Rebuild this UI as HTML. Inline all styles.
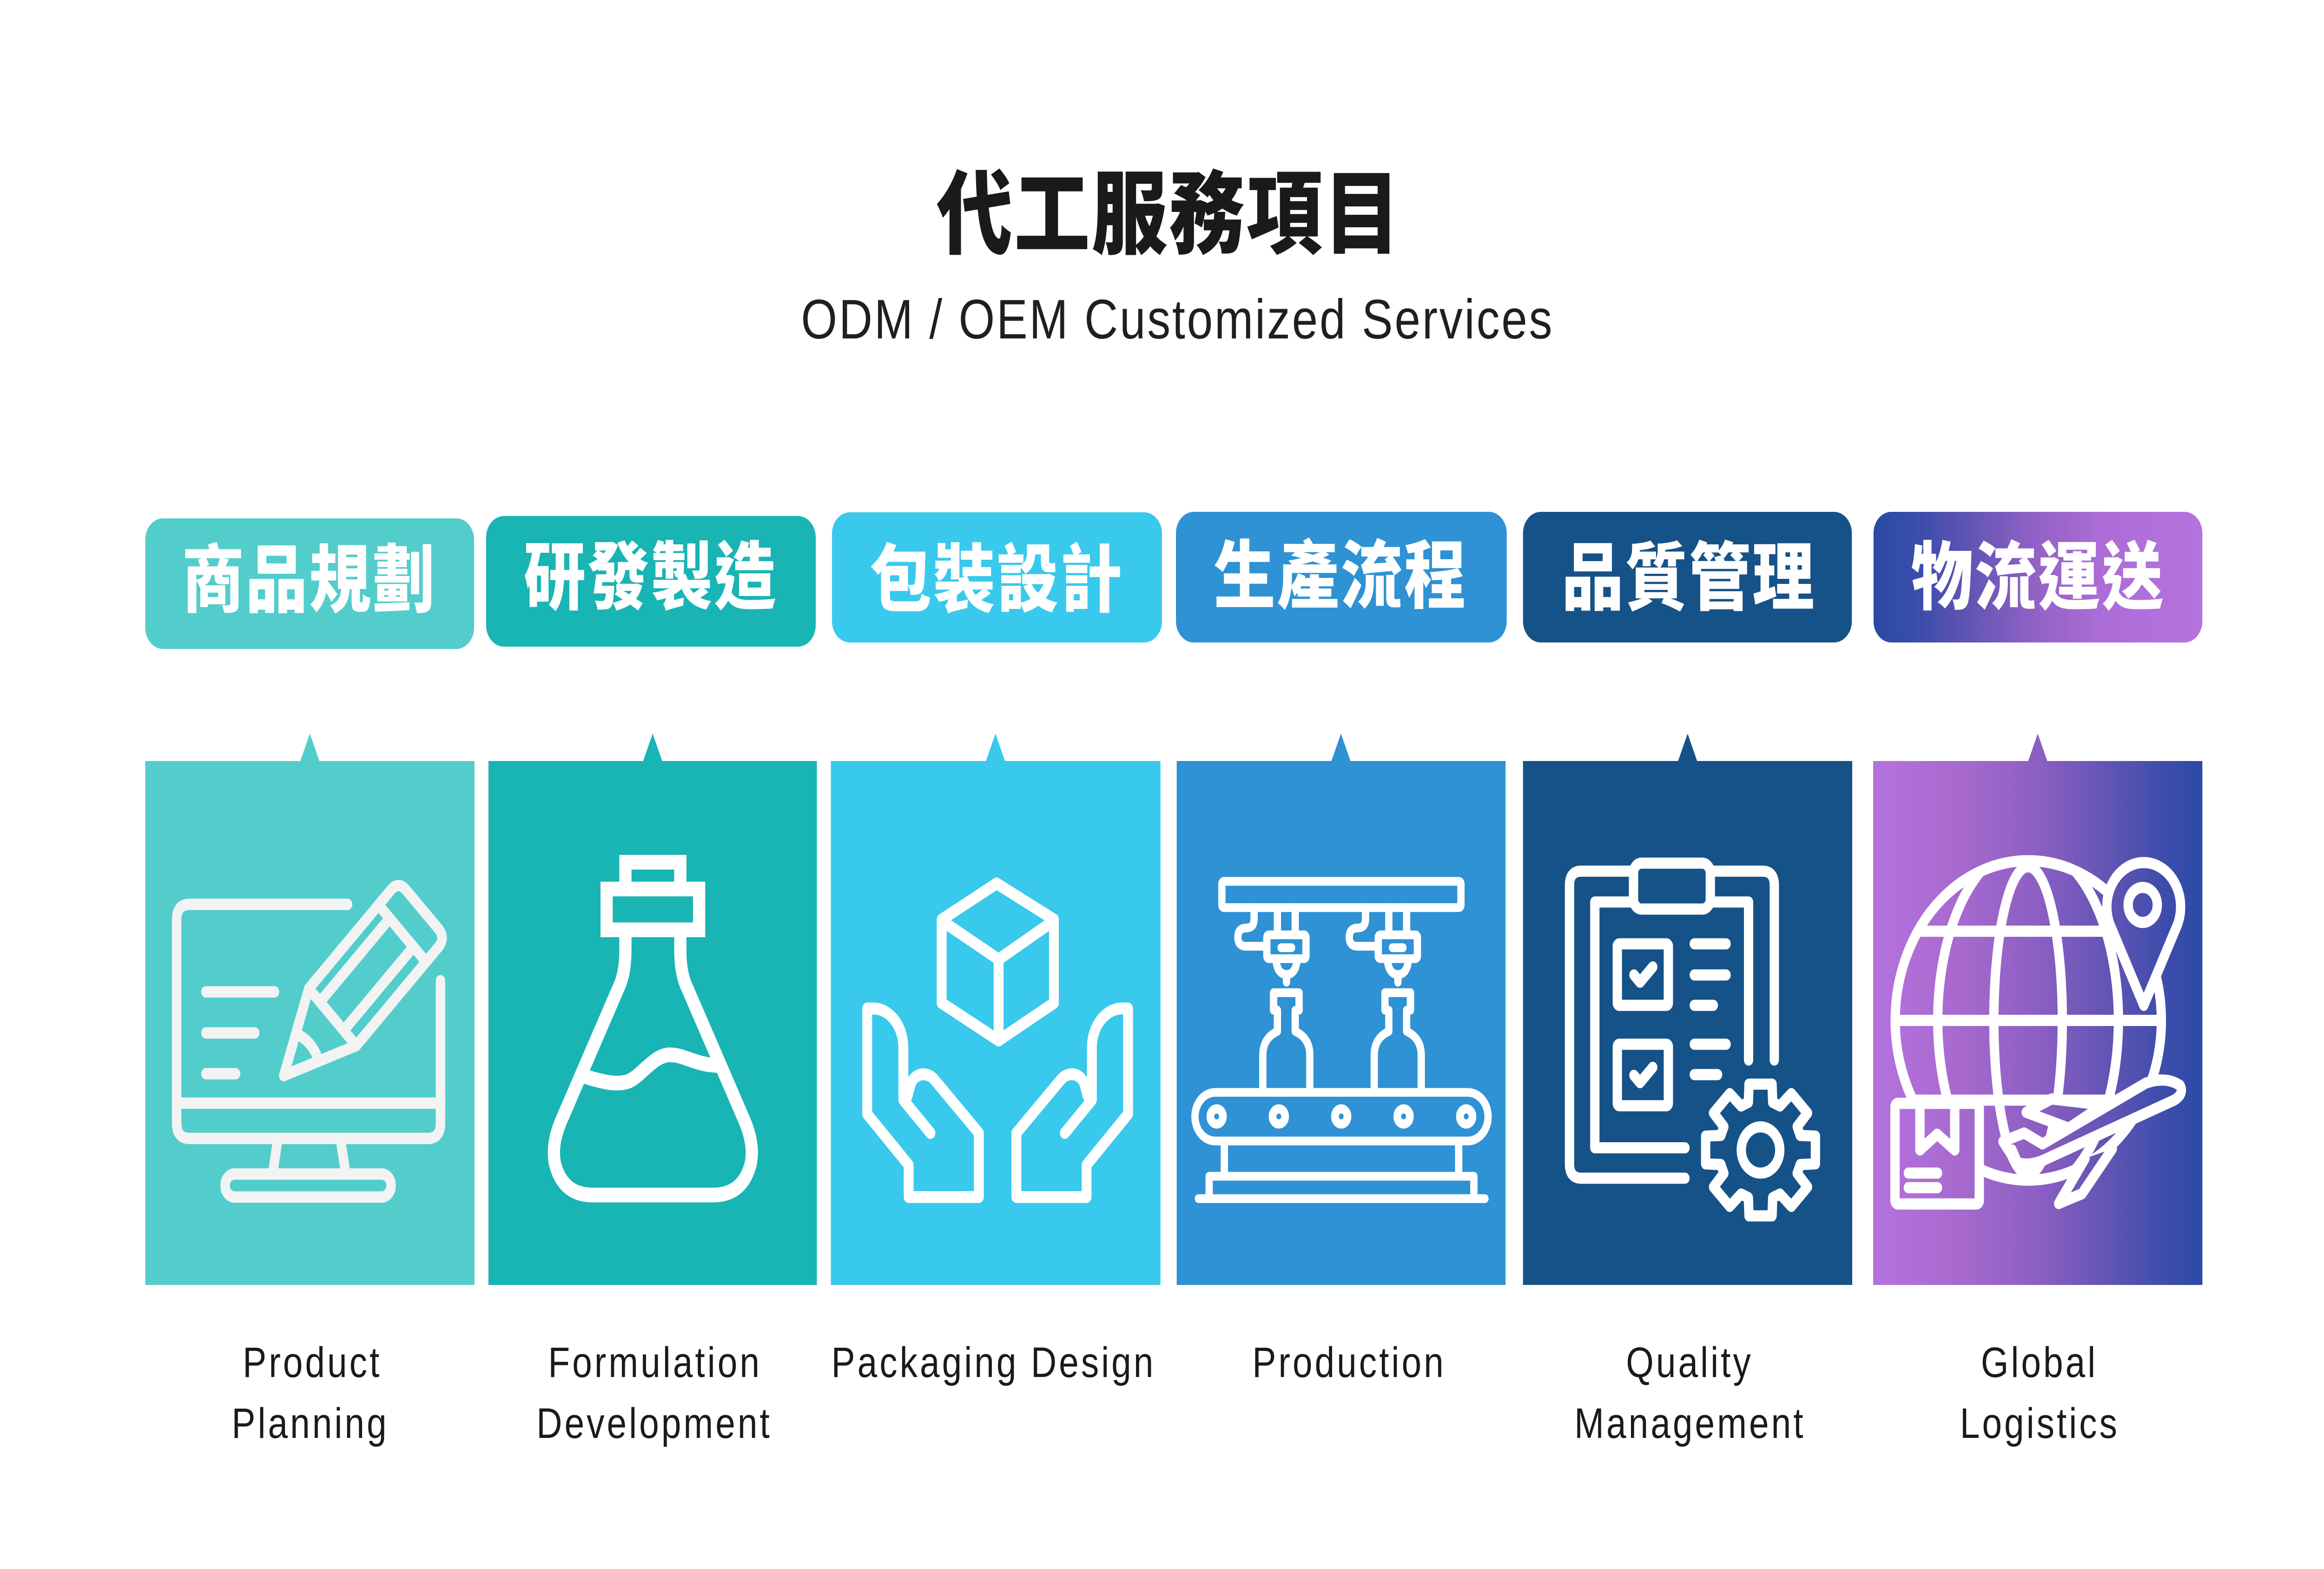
<!DOCTYPE html>
<html>
<head>
<meta charset="utf-8">
<style>
  html,body{margin:0;padding:0;background:#ffffff;width:100%;height:100%;overflow:hidden;}
  svg.main{position:fixed;left:0;top:0;width:100vw;height:100vh;display:block;}
  .cjk{font-family:"Liberation Sans","Noto Sans CJK TC","Noto Sans CJK SC",sans-serif;font-weight:900;}
  .lat{font-family:"Liberation Sans",sans-serif;}
</style>
</head>
<body>
<svg class="main" viewBox="0 0 6000 3375" preserveAspectRatio="none" xmlns="http://www.w3.org/2000/svg">
  <defs>
    <linearGradient id="g6" gradientUnits="userSpaceOnUse" x1="4836" y1="0" x2="5686" y2="0">
      <stop offset="0" stop-color="#B472DE"/>
      <stop offset="0.25" stop-color="#A86ACF"/>
      <stop offset="0.5" stop-color="#8C5FC3"/>
      <stop offset="0.7" stop-color="#6455B5"/>
      <stop offset="0.88" stop-color="#3E4DAB"/>
      <stop offset="1" stop-color="#2A4AA6"/>
    </linearGradient>
    <linearGradient id="p6" gradientUnits="userSpaceOnUse" x1="4837" y1="0" x2="5686" y2="0">
      <stop offset="0" stop-color="#2A4AA6"/>
      <stop offset="0.15" stop-color="#3E4DAB"/>
      <stop offset="0.3" stop-color="#6455B5"/>
      <stop offset="0.5" stop-color="#9462C6"/>
      <stop offset="0.7" stop-color="#AD6DD8"/>
      <stop offset="1" stop-color="#B472DE"/>
    </linearGradient>
  </defs>

  <rect x="0" y="0" width="6000" height="3375" fill="#ffffff"/>

  <!-- Title -->
  <text class="cjk" x="3018" y="530" font-size="196" text-anchor="middle" fill="#1a1a1a" letter-spacing="4">代工服務項目</text>
  <text class="lat" x="3040" y="728" font-size="120" text-anchor="middle" fill="#1f1f1f" letter-spacing="4.5">ODM / OEM Customized Services</text>

  <!-- Pills -->
  <rect x="375" y="1115" width="849" height="281" rx="46" fill="#52CDCC"/>
  <rect x="1255" y="1110" width="851" height="281" rx="46" fill="#19B4B4"/>
  <rect x="2148" y="1102" width="852" height="280" rx="46" fill="#39C9EC"/>
  <rect x="3036" y="1101" width="854" height="281" rx="46" fill="#2E92D4"/>
  <rect x="3932" y="1101" width="849" height="281" rx="46" fill="#155288"/>
  <rect x="4837" y="1101" width="849" height="281" rx="46" fill="url(#p6)"/>

  <g class="cjk" font-size="160" text-anchor="middle" fill="#ffffff" letter-spacing="4">
    <text x="798" y="1304">商品規劃</text>
    <text x="1680" y="1298">研發製造</text>
    <text x="2573" y="1303">包裝設計</text>
    <text x="3461" y="1295">生產流程</text>
    <text x="4360" y="1299">品質管理</text>
    <text x="5262" y="1298">物流運送</text>
  </g>

  <!-- Boxes -->
  <rect x="375" y="1637" width="850" height="1127" fill="#52CDCC"/>
  <rect x="1261" y="1637" width="848" height="1127" fill="#19B4B4"/>
  <rect x="2145" y="1637" width="851" height="1127" fill="#39C9EC"/>
  <rect x="3038" y="1637" width="849" height="1127" fill="#2E92D4"/>
  <rect x="3932" y="1637" width="850" height="1127" fill="#155288"/>
  <rect x="4836" y="1637" width="850" height="1127" fill="url(#g6)"/>

  <!-- Pointer triangles -->
  <polygon points="775,1638 800,1578 825,1638" fill="#52CDCC"/>
  <polygon points="1660,1638 1685,1578 1710,1638" fill="#19B4B4"/>
  <polygon points="2545,1638 2570,1578 2595,1638" fill="#39C9EC"/>
  <polygon points="3437,1638 3462,1578 3487,1638" fill="#2E92D4"/>
  <polygon points="4332,1638 4357,1578 4382,1638" fill="#155288"/>
  <polygon points="5236,1638 5261,1578 5286,1638" fill="#8A5EC2"/>

  <!-- Icon 1: monitor + pencil -->
  <svg x="400" y="1830" width="800" height="800" viewBox="0 0 1568 1568">
    <g fill="none" stroke="#F3F3F3" stroke-width="48" stroke-linecap="round" stroke-linejoin="round">
      <path d="M975 226 H175 Q110 226 110 291 V1148 Q110 1213 175 1213 H1380 Q1445 1213 1445 1148 V548"/>
      <path d="M110 1064 H1445"/>
      <path d="M622 1213 L596 1362 M938 1213 L966 1362" stroke-linecap="butt"/>
      <rect x="355" y="1363" width="840" height="97" rx="48"/>
      <path d="M258 595 H605 M258 768 H505 M258 940 H408"/>
      <g transform="translate(652 948) rotate(-45)">
        <path d="M0 0 L349 -170 L935 -170 Q991 -170 991 -114 L991 114 Q991 170 935 170 L349 170 Z"/>
        <path d="M349 -170 V170 M848 -170 V170 M349 -90 H848 M349 80 H848"/>
        <path d="M170 -78 Q205 0 170 78"/>
      </g>
    </g>
  </svg>

  <!-- Icon 2: flask -->
  <svg x="1285" y="1820" width="800" height="800" viewBox="0 0 1568 1568">
    <g fill="none" stroke="#ffffff" stroke-width="62">
      <path d="M646 181 V68 H924 V181" stroke-linejoin="miter"/>
      <rect x="551" y="181" width="468" height="172"/>
      <path d="M646 353 V440 Q646 540 610 600 L320 1160 Q270 1260 290 1340 Q330 1471 480 1471 H1090 Q1240 1471 1280 1340 Q1300 1260 1250 1160 L960 600 Q924 540 924 440 V353" stroke-linejoin="round"/>
      <path d="M420 966 C520 992 600 1010 660 992 C720 975 790 880 870 880 C950 880 1000 925 1128 925"/>
    </g>
  </svg>

  <!-- Icon 3: hands + cube -->
  <svg x="2170" y="1830" width="800" height="800" viewBox="0 0 1568 1568">
    <g fill="none" stroke="#ffffff" stroke-width="50" stroke-linecap="round" stroke-linejoin="round">
      <path d="M790 138 L1080 290 V642 L800 800 L512 642 V290 Z"/>
      <path d="M512 295 L800 458 L1080 295 M800 458 V800"/>
      <path d="M455 1190 L325 1058 L318 1050 V830 C318 740 250 665 165 665 H135 V1110 L345 1325 V1460 H700 V1190 L475 965 C440 930 375 935 355 985 C345 1015 340 1040 325 1058"/>
      <g transform="translate(1590 0) scale(-1 1)">
        <path d="M455 1190 L325 1058 L318 1050 V830 C318 740 250 665 165 665 H135 V1110 L345 1325 V1460 H700 V1190 L475 965 C440 930 375 935 355 985 C345 1015 340 1040 325 1058"/>
      </g>
    </g>
  </svg>

  <!-- Icon 4: production line -->
  <svg x="3060" y="1820" width="820" height="820" viewBox="0 0 1568 1568">
    <g fill="none" stroke="#ffffff" stroke-width="36" stroke-linecap="round" stroke-linejoin="round">
      <rect x="181" y="145" width="1180" height="108" rx="10"/>
      <g>
        <path d="M340 253 V300 Q340 337 300 337 Q260 337 260 375 Q260 412 300 412 H403"/>
        <path d="M455 253 V365 M543 253 V365"/>
        <rect x="403" y="365" width="193" height="98" rx="10"/>
        <path d="M473 418 H525"/>
        <path d="M448 468 Q455 528 500 528 Q545 528 552 468"/>
        <path d="M500 530 V560"/>
        <path d="M383 1000 V860 Q383 790 455 762 V675 H436 V603 H562 V675 H543 V762 Q615 790 615 860 V1000"/>
      </g>
      <g transform="translate(550 0)">
        <path d="M340 253 V300 Q340 337 300 337 Q260 337 260 375 Q260 412 300 412 H403"/>
        <path d="M455 253 V365 M543 253 V365"/>
        <rect x="403" y="365" width="193" height="98" rx="10"/>
        <path d="M473 418 H525"/>
        <path d="M448 468 Q455 528 500 528 Q545 528 552 468"/>
        <path d="M500 530 V560"/>
        <path d="M383 1000 V860 Q383 790 455 762 V675 H436 V603 H562 V675 H543 V762 Q615 790 615 860 V1000"/>
      </g>
      <rect x="48" y="1013" width="1447" height="200" rx="100"/>
      <g stroke-width="38">
        <circle cx="155" cy="1112" r="31"/>
        <circle cx="462" cy="1112" r="31"/>
        <circle cx="770" cy="1112" r="31"/>
        <circle cx="1078" cy="1112" r="31"/>
        <circle cx="1387" cy="1112" r="31"/>
      </g>
      <path d="M193 1213 V1358 M1350 1213 V1358" stroke-linecap="butt"/>
      <path d="M118 1450 V1358 H1425 V1450"/>
      <path d="M65 1450 H1480"/>
    </g>
  </svg>

  <!-- Icon 5: clipboard + gear -->
  <svg x="3970" y="1820" width="820" height="820" viewBox="0 0 1568 1568">
    <g fill="none" stroke="#ffffff" stroke-width="46" stroke-linecap="round" stroke-linejoin="round">
      <path d="M727 1366 H215 Q157 1366 157 1308 V161 Q157 103 215 103 H473 M852 103 H1110 Q1168 103 1168 161 V880"/>
      <path d="M727 1241 H282 V230 H473 M852 230 H1041 V880"/>
      <rect x="473" y="70" width="379" height="189" rx="40"/>
      <rect x="393" y="402" width="252" height="253" rx="10"/>
      <rect x="393" y="815" width="252" height="253" rx="10"/>
      <path d="M475 530 L505 560 L568 497"/>
      <path d="M475 943 L505 973 L568 910"/>
      <path d="M773 402 H930 M773 530 H930 M773 655 H867 M773 815 H930 M773 940 H888"/>
      <path d="M1296 1190 L1371 1193 L1371 1307 L1296 1310 L1281 1346 L1332 1402 L1252 1482 L1196 1431 L1160 1446 L1157 1521 L1043 1521 L1040 1446 L1004 1431 L948 1482 L868 1402 L919 1346 L904 1310 L829 1307 L829 1193 L904 1190 L919 1154 L868 1098 L948 1018 L1004 1069 L1040 1054 L1043 979 L1157 979 L1160 1054 L1196 1069 L1252 1018 L1332 1098 L1281 1154 Z"/>
      <circle cx="1100" cy="1250" r="95"/>
    </g>
  </svg>

  <!-- Icon 6: globe + pin + box + plane -->
  <svg x="4860" y="1820" width="820" height="820" viewBox="0 0 1568 1568">
    <defs>
      <linearGradient id="g6i" gradientUnits="userSpaceOnUse" x1="-46" y1="0" x2="1579" y2="0">
        <stop offset="0" stop-color="#B472DE"/>
        <stop offset="0.25" stop-color="#A86ACF"/>
        <stop offset="0.5" stop-color="#8C5FC3"/>
        <stop offset="0.7" stop-color="#6455B5"/>
        <stop offset="0.88" stop-color="#3E4DAB"/>
        <stop offset="1" stop-color="#2A4AA6"/>
      </linearGradient>
      <clipPath id="gclip"><circle cx="720" cy="717" r="657"/></clipPath>
    </defs>
    <g fill="none" stroke="#ffffff" stroke-width="46" stroke-linecap="round" stroke-linejoin="round">
      <circle cx="720" cy="717" r="657"/>
      <g clip-path="url(#gclip)">
        <ellipse cx="719" cy="717" rx="169" ry="632"/>
        <ellipse cx="719" cy="717" rx="446" ry="720"/>
        <path d="M40 717 H1400 M120 350 H1320 M120 1045 H1320" stroke-linecap="butt"/>
      </g>
      <path d="M1290 655 L1132 340 A182 182 0 1 1 1448 340 Z" fill="url(#g6i)"/>
      <circle cx="1285" cy="242" r="72"/>
      <rect x="62" y="1058" width="416" height="414" rx="14" fill="url(#g6i)"/>
      <path d="M185 1058 V1250 L270 1185 L357 1250 V1058"/>
      <path d="M128 1345 H272 M128 1405 H272"/>
      <path d="M710 1095 L835 1040 L1090 1065 L920 1160 Z" fill="url(#g6i)"/>
      <path d="M595 1215 L700 1180 L790 1225 L1300 975 Q1400 945 1470 985 Q1490 1020 1440 1045 L800 1290 Q720 1320 660 1300 Z" fill="url(#g6i)"/>
      <path d="M640 1250 L680 1330 L760 1310"/>
      <path d="M1000 1285 L870 1470 L985 1430 L1135 1245" fill="url(#g6i)"/>
    </g>
  </svg>

  <!-- Bottom labels -->
  <g class="lat" font-size="92" text-anchor="middle" fill="#1a1a1a" letter-spacing="6">
    <text x="806" y="2962">Product</text>
    <text x="801" y="3093">Planning</text>
    <text x="1691" y="2962">Formulation</text>
    <text x="1689" y="3093">Development</text>
    <text x="2565" y="2962">Packaging Design</text>
    <text x="3483" y="2962">Production</text>
    <text x="4362" y="2962">Quality</text>
    <text x="4363" y="3093">Management</text>
    <text x="5265" y="2962">Global</text>
    <text x="5266" y="3093">Logistics</text>
  </g>
</svg>
</body>
</html>
